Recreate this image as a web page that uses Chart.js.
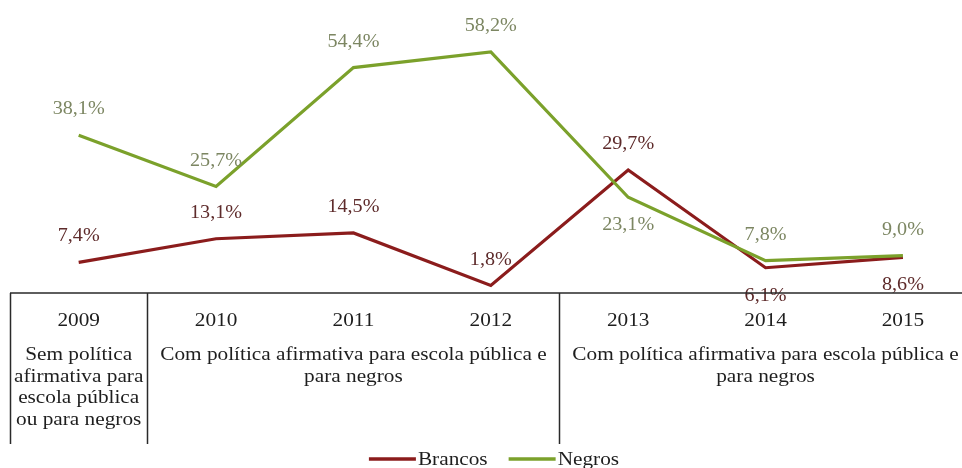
<!DOCTYPE html>
<html>
<head>
<meta charset="utf-8">
<script src="https://cdn.jsdelivr.net/npm/chart.js@4"></script>
<style>
html, body { margin: 0; padding: 0; background: #fff; overflow: hidden; }
</style>
</head>
<body>
<canvas id="grafico" width="962" height="468"></canvas>
<script>
// Dados
const anos = [2009, 2010, 2011, 2012, 2013, 2014, 2015];
const brancos = [7.4, 13.1, 14.5, 1.8, 29.7, 6.1, 8.6];
const negros = [38.1, 25.7, 54.4, 58.2, 23.1, 7.8, 9.0];
const rotulosBrancos = ['7,4%', '13,1%', '14,5%', '1,8%', '29,7%', '6,1%', '8,6%'];
const rotulosNegros = ['38,1%', '25,7%', '54,4%', '58,2%', '23,1%', '7,8%', '9,0%'];
const periodos = [
    { de: 2009, ate: 2009, texto: ['Sem política', 'afirmativa para', 'escola pública', 'ou para negros'] },
    { de: 2010, ate: 2012, texto: ['Com política afirmativa para escola pública e', 'para negros'] },
    { de: 2013, ate: 2015, texto: ['Com política afirmativa para escola pública e', 'para negros'] }
];

const corBrancos = '#8b1c1c';
const corNegros = '#7ba12b';
const fonte = '"Liberation Serif", "Times New Roman", serif';
const esticar = 1.12;

// lado do rótulo de cada ponto (acima / abaixo da linha)
const ladoBrancos = ['acima', 'acima', 'acima', 'acima', 'acima', 'abaixo', 'abaixo'];
const ladoNegros = ['acima', 'acima', 'acima', 'acima', 'abaixo', 'acima', 'acima'];

function escrever(ctx, str, x, y, escala) {
    ctx.save();
    ctx.translate(x, y);
    ctx.scale(escala, 1);
    ctx.fillText(str, 0, 0);
    ctx.restore();
}

const rotulos = {
    id: 'rotulos',
    afterDatasetsDraw(chart) {
        const ctx = chart.ctx;
        ctx.save();
        ctx.font = '19px ' + fonte;
        ctx.textAlign = 'center';
        ctx.textBaseline = 'middle';
        const series = [
            { meta: chart.getDatasetMeta(0), textos: rotulosBrancos, lados: ladoBrancos, cor: '#5e2b2b' },
            { meta: chart.getDatasetMeta(1), textos: rotulosNegros, lados: ladoNegros, cor: '#7c8662' }
        ];
        series.forEach(s => {
            ctx.fillStyle = s.cor;
            s.meta.data.forEach((pt, i) => {
                const dy = s.lados[i] === 'acima' ? -26 : 28;
                escrever(ctx, s.textos[i], pt.x, pt.y + dy, 1.06);
            });
        });
        ctx.restore();
    }
};

const tabela = {
    id: 'tabela',
    afterDraw(chart) {
        const { ctx, chartArea } = chart;
        const x = chart.scales.x;
        const topo = chartArea.bottom;
        ctx.save();

        // linhas da tabela
        ctx.strokeStyle = '#2a2a2a';
        ctx.lineWidth = 1.5;
        ctx.beginPath();
        ctx.moveTo(chartArea.left, topo);
        ctx.lineTo(chartArea.right, topo);
        periodos.forEach(p => {
            const xp = Math.round(x.getPixelForValue(p.de - 0.5)) + 0.5;
            ctx.moveTo(xp, topo);
            ctx.lineTo(xp, topo + 151);
        });
        ctx.stroke();

        // anos e períodos
        ctx.fillStyle = '#1e1e1e';
        ctx.font = '19px ' + fonte;
        ctx.textAlign = 'center';
        ctx.textBaseline = 'middle';
        anos.forEach(a => escrever(ctx, String(a), x.getPixelForValue(a), topo + 28, esticar));
        periodos.forEach(p => {
            const xc = x.getPixelForValue((p.de + p.ate) / 2);
            p.texto.forEach((linha, i) => escrever(ctx, linha, xc, topo + 62 + i * 21.7, esticar));
        });

        // legenda
        const itens = chart.data.datasets.map(d => ({ nome: d.label, cor: d.borderColor }));
        ctx.textAlign = 'left';
        const larg = itens.map(it => ctx.measureText(it.nome).width * esticar);
        const total = itens.reduce((s, it, i) => s + 47 + 2 + larg[i], 0) + 21;
        let xl = (chartArea.left + chartArea.right) / 2 + 8 - total / 2;
        const yl = topo + 166;
        itens.forEach((it, i) => {
            ctx.strokeStyle = it.cor;
            ctx.lineWidth = 3.5;
            ctx.beginPath();
            ctx.moveTo(xl, yl);
            ctx.lineTo(xl + 47, yl);
            ctx.stroke();
            escrever(ctx, it.nome, xl + 49, yl + 1, esticar);
            xl += 47 + 2 + larg[i] + 21;
        });
        ctx.restore();
    }
};

const ctx = document.getElementById('grafico');

new Chart(ctx, {
    type: 'line',
    data: {
        datasets: [{
            label: 'Brancos',
            data: anos.map((a, i) => ({ x: a, y: brancos[i] })),
            borderColor: corBrancos,
            borderWidth: 3.2,
            pointRadius: 0,
            tension: 0,
            order: 1
        }, {
            label: 'Negros',
            data: anos.map((a, i) => ({ x: a, y: negros[i] })),
            borderColor: corNegros,
            borderWidth: 3.2,
            pointRadius: 0,
            tension: 0,
            order: 0
        }]
    },
    options: {
        responsive: false,
        animation: false,
        layout: { padding: { left: 10, right: 0, top: 3, bottom: 175 } },
        scales: {
            x: { type: 'linear', min: 2008.5, max: 2015.43, display: false },
            y: { min: 0, max: 70, display: false }
        },
        plugins: {
            legend: { display: false },
            tooltip: { enabled: false }
        }
    },
    plugins: [rotulos, tabela]
});
</script>
</body>
</html>
